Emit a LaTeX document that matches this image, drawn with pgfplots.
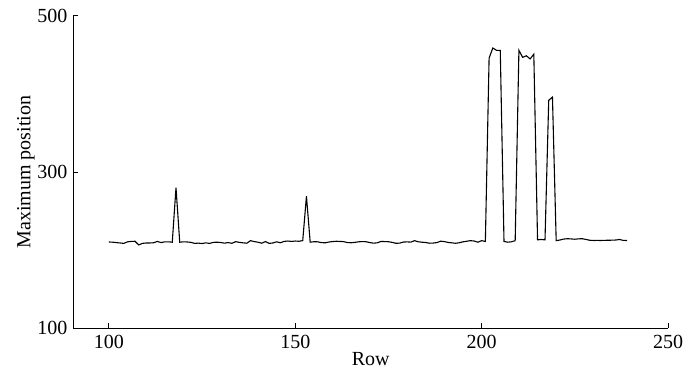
\documentclass[border=0pt]{standalone}
\usepackage{fontspec}
\setmainfont{Liberation Serif}
\usepackage{pgfplots}
\pgfplotsset{compat=1.18}
\begin{document}
\begin{tikzpicture}
\useasboundingbox (-36.75pt,-21pt) rectangle (311.25pt,164pt);
\begin{axis}[
  scale only axis,
  anchor=south west, at={(0,0)},
  width=297.25pt, height=156pt,
  xmin=90.5, xmax=250, ymin=100, ymax=500,
  xtick={100,150,200,250}, ytick={100,300,500},
  axis x line=bottom, axis y line=left,
  axis line style={-, line width=0.5pt},
  tick align=inside,
  major tick length=2.5pt,
  tick style={black, line width=0.5pt},
  /pgf/number format/assume math mode=true,
  ticklabel style={font=\fontsize{10}{12}\selectfont},
  label style={font=\fontsize{10}{12}\selectfont},
  xlabel={Row}, ylabel={Maximum position},
  xlabel style={yshift=5pt},
  ylabel style={yshift=-5.5pt},
  yticklabel style={xshift=0.5pt},
]
\addplot[black, line width=0.55pt, mark=none] coordinates {
(100,210.3)(101,210)(102,209.5)(103,209)(104,208.5)(105,210.5)(106,211)(107,211.2)(108,206.5)(109,208.5)
(110,209)(111,209)(112,209.3)(113,211)(114,209.5)(115,210.5)(116,210.5)(117,210)(118,280)(119,210)
(120,210.5)(121,210.3)(122,209.8)(123,208.5)(124,208.8)(125,208.3)(126,209.2)(127,208.4)(128,209.8)(129,210)
(130,209.6)(131,208.8)(132,209.5)(133,208.6)(134,210.7)(135,209.8)(136,209.2)(137,208.7)(138,212)(139,210.8)
(140,210)(141,208.7)(142,210.8)(143,208.5)(144,209)(145,210.5)(146,209.3)(147,211)(148,211.5)(149,211)
(150,211.5)(151,211.2)(152,212)(153,269)(154,210)(155,210.6)(156,210.5)(157,209.5)(158,209.2)(159,210.2)
(160,210.8)(161,211.2)(162,211)(163,210.7)(164,209.5)(165,209.3)(166,209.8)(167,210.5)(168,210.8)(169,210.6)
(170,209.5)(171,208.8)(172,209.2)(173,211)(174,210.8)(175,210.6)(176,209.8)(177,208.6)(178,208.8)(179,210.2)
(180,210.4)(181,210.1)(182,212)(183,210.5)(184,210)(185,209.6)(186,208.7)(187,208.9)(188,209.5)(189,211.3)
(190,210.8)(191,209.7)(192,209.2)(193,208.6)(194,209.3)(195,210.5)(196,211.2)(197,212)(198,211.5)(199,210)
(200,212)(201,211)(202,446)(203,459)(204,456)(205,456)(206,211)(207,210)(208,210.5)(209,212)
(210,456)(211,447)(212,449)(213,445)(214,451)(215,213)(216,213.5)(217,213)(218,392)(219,396)
(220,212)(221,212.8)(222,214)(223,214.5)(224,214.2)(225,213.8)(226,214.3)(227,214.5)(228,213.5)(229,212.5)
(230,212.2)(231,212.3)(232,212.2)(233,212.4)(234,212.5)(235,212.6)(236,212.8)(237,213.5)(238,212.3)(239,212.2)
};
\end{axis}
\end{tikzpicture}
\end{document}
